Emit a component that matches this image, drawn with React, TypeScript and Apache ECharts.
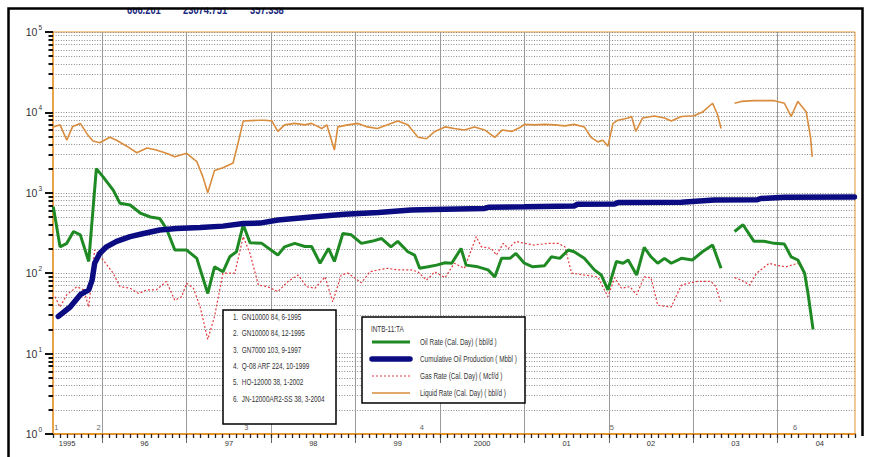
import React, { useEffect, useRef } from "react";
import * as echarts from "echarts";

const FONT = "'Liberation Sans', Arial, 'Noto Sans', sans-serif";

const headerValues = ["666.201", "23074.751", "357.338"];
const wellName = "INTB-11:TA";

const seriesNames = [
  "Oil Rate (Cal. Day) ( bbl/d )",
  "Cumulative Oil Production ( Mbbl )",
  "Gas Rate (Cal. Day) ( Mcf/d )",
  "Liquid Rate (Cal. Day) ( bbl/d )",
];

const eventNames = [
  "GN10000 84, 6-1995",
  "GN10000 84, 12-1995",
  "GN7000 103, 9-1997",
  "Q-08 ARF 224, 10-1999",
  "HO-12000 38, 1-2002",
  "JN-12000AR2-SS 38, 3-2004",
];
const eventDates = [1995.42, 1995.92, 1997.67, 1999.75, 2002.0, 2004.17];

const yearLabels = ["1995", "96", "97", "98", "99", "2000", "01", "02", "03", "04"];
const yearLabelMonths = ["1995-08", "1996-07", "1997-07", "1998-07", "1999-07", "2000-07", "2001-07", "2002-07", "2003-07", "2004-07"];

const firstYear = 1995;
const firstMonth = 6;
const lastYear = 2004;
const lastMonth = 12;

const decadeTicks = [1, 10, 100, 1000, 10000, 100000];
const minorDigits = [2, 3, 4, 5, 6, 7, 8, 9];

const liquidRate: [number, number | null][] = [
  [1995.42, 6600], [1995.5, 7000], [1995.58, 4500], [1995.65, 6700], [1995.74, 7300], [1995.82, 5400],
  [1995.89, 4400], [1995.97, 4200], [1996.09, 4900], [1996.17, 4500], [1996.29, 3800], [1996.41, 3150],
  [1996.53, 3600], [1996.64, 3400], [1996.76, 3100], [1996.86, 2800], [1997.0, 3100], [1997.12, 2450],
  [1997.19, 1600], [1997.25, 1000], [1997.33, 1900], [1997.43, 2050], [1997.55, 2350], [1997.61, 4200],
  [1997.67, 7800], [1997.87, 8000], [1997.93, 8000], [1998.01, 7800], [1998.08, 5800], [1998.16, 7000],
  [1998.28, 7300], [1998.4, 7000], [1998.48, 7300], [1998.6, 6300], [1998.66, 7000], [1998.75, 3400],
  [1998.79, 6600], [1998.91, 7000], [1999.03, 7300], [1999.14, 6600], [1999.26, 6300], [1999.38, 7000],
  [1999.5, 7800], [1999.62, 7000], [1999.74, 4900], [1999.84, 4700], [1999.94, 5800], [2000.06, 6600],
  [2000.17, 6300], [2000.29, 6050], [2000.41, 6600], [2000.53, 6050], [2000.65, 4900], [2000.74, 6050],
  [2000.85, 5800], [2000.96, 6600], [2001.0, 7100], [2001.12, 7000], [2001.24, 7100], [2001.36, 7000],
  [2001.48, 6800], [2001.59, 7100], [2001.71, 6600], [2001.79, 4900], [2001.87, 4300], [2001.93, 4500],
  [2001.99, 3800], [2002.05, 7300], [2002.11, 8000], [2002.23, 8500], [2002.27, 8900], [2002.32, 5800],
  [2002.4, 8500], [2002.54, 9000], [2002.66, 8500], [2002.74, 7800], [2002.86, 8900], [2003.01, 9100],
  [2003.11, 10100], [2003.23, 13000], [2003.29, 9300], [2003.33, 6300], [2003.41, null],
  [2003.49, 13000], [2003.57, 13700], [2003.72, 14000], [2003.96, 14000], [2004.08, 13000],
  [2004.16, 8900], [2004.24, 13700], [2004.34, 10100], [2004.39, 4900], [2004.41, 2800],
];

const oilRate: [number, number | null][] = [
  [1995.42, 670], [1995.5, 213], [1995.58, 235], [1995.66, 330], [1995.74, 300], [1995.84, 140],
  [1995.93, 2000], [1996.01, 1580], [1996.13, 1080], [1996.21, 740], [1996.33, 705], [1996.45, 560],
  [1996.57, 500], [1996.68, 480], [1996.76, 360], [1996.86, 194], [1997.0, 194], [1997.12, 153],
  [1997.25, 56], [1997.33, 120], [1997.43, 104], [1997.51, 160], [1997.59, 185], [1997.67, 400],
  [1997.75, 240], [1997.89, 235], [1998.08, 168], [1998.16, 213], [1998.28, 235], [1998.4, 215],
  [1998.48, 215], [1998.58, 133], [1998.68, 203], [1998.75, 140], [1998.85, 312], [1998.95, 300],
  [1999.07, 235], [1999.19, 249], [1999.31, 270], [1999.42, 213], [1999.5, 249], [1999.62, 185],
  [1999.7, 168], [1999.76, 115], [1999.86, 120], [1999.96, 126], [2000.06, 135], [2000.14, 133],
  [2000.25, 203], [2000.31, 126], [2000.45, 120], [2000.57, 110], [2000.65, 90], [2000.73, 153],
  [2000.83, 153], [2000.9, 176], [2001.0, 133], [2001.1, 120], [2001.24, 124], [2001.32, 160],
  [2001.42, 153], [2001.52, 194], [2001.59, 185], [2001.71, 153], [2001.83, 110], [2001.91, 95],
  [2001.99, 62], [2002.09, 140], [2002.17, 133], [2002.23, 146], [2002.33, 95], [2002.42, 210],
  [2002.5, 160], [2002.58, 133], [2002.66, 153], [2002.74, 133], [2002.86, 153], [2002.99, 146],
  [2003.11, 185], [2003.23, 224], [2003.33, 115], [2003.41, null], [2003.49, 330], [2003.59, 400],
  [2003.72, 249], [2003.84, 249], [2003.96, 235], [2004.08, 230], [2004.16, 160], [2004.24, 146],
  [2004.32, 100], [2004.36, 56], [2004.42, 20],
];

const cumulativeOil: [number, number][] = [
  [1995.48, 29], [1995.62, 38], [1995.74, 54], [1995.84, 62], [1995.88, 82], [1995.91, 133],
  [1995.97, 176], [1996.05, 213], [1996.17, 249], [1996.33, 285], [1996.49, 312], [1996.68, 345],
  [1996.88, 360], [1997.16, 370], [1997.43, 385], [1997.67, 415], [1997.87, 420], [1998.08, 459],
  [1998.48, 500], [1998.87, 540], [1999.27, 570], [1999.66, 611], [2000.06, 625], [2000.53, 640],
  [2000.57, 660], [2001.0, 670], [2001.59, 685], [2001.63, 720], [2002.07, 725], [2002.11, 755],
  [2002.86, 765], [2003.25, 813], [2003.76, 820], [2003.8, 850], [2004.08, 880], [2004.91, 885],
];

const gasRate: [number, number | null][] = [
  [1995.44, 51], [1995.5, 38], [1995.58, 54], [1995.7, 68], [1995.78, 62], [1995.84, 38],
  [1995.91, 194], [1996.01, 146], [1996.13, 100], [1996.21, 68], [1996.33, 65], [1996.43, 56],
  [1996.53, 62], [1996.64, 62], [1996.76, 79], [1996.86, 46], [1996.94, 51], [1997.0, 75],
  [1997.08, 65], [1997.16, 38], [1997.25, 15], [1997.33, 29], [1997.43, 100], [1997.57, 100],
  [1997.67, 285], [1997.75, 176], [1997.85, 71], [1997.96, 68], [1998.08, 59], [1998.2, 79],
  [1998.32, 95], [1998.42, 68], [1998.52, 65], [1998.64, 90], [1998.73, 44], [1998.83, 95],
  [1998.91, 100], [1999.07, 76], [1999.17, 104], [1999.27, 110], [1999.38, 115], [1999.5, 110],
  [1999.66, 110], [1999.74, 104], [1999.84, 82], [1999.94, 104], [2000.06, 88], [2000.17, 133],
  [2000.29, 115], [2000.43, 285], [2000.49, 213], [2000.61, 203], [2000.67, 168], [2000.75, 235],
  [2000.81, 203], [2000.9, 249], [2001.0, 235], [2001.12, 224], [2001.28, 235], [2001.4, 235],
  [2001.48, 213], [2001.56, 100], [2001.71, 95], [2001.87, 90], [2001.99, 51], [2002.07, 88],
  [2002.15, 65], [2002.25, 68], [2002.33, 54], [2002.42, 90], [2002.5, 88], [2002.58, 40],
  [2002.74, 38], [2002.86, 71], [2002.94, 75], [2003.05, 79], [2003.21, 79], [2003.27, 68],
  [2003.33, 42], [2003.41, null], [2003.49, 88], [2003.57, 82], [2003.67, 71], [2003.75, 100],
  [2003.9, 133], [2003.98, 126], [2004.1, 120], [2004.24, 133], [2004.3, 110],
];

const COLORS = {
  oil: "#1f8a24",
  cum: "#0b0b82",
  gas: "#e2383c",
  liquid: "#d98c3c",
  frame: "#e6952e",
};

const seriesStyles = [
  { color: COLORS.oil, width: 3, dash: null as any },
  { color: COLORS.cum, width: 5.5, dash: null as any },
  { color: COLORS.gas, width: 1.2, dash: [2, 2] },
  { color: COLORS.liquid, width: 1.6, dash: null as any },
];

export default function App() {
  const ref = useRef<HTMLDivElement>(null);

  useEffect(() => {
    if (!ref.current) return;
    const chart = echarts.init(ref.current, undefined, { renderer: "svg" });

    const monthCategories: string[] = [];
    for (let y = firstYear; y <= lastYear; y++) {
      for (let m = 1; m <= 12; m++) {
        if (y === firstYear && m < firstMonth) continue;
        if (y === lastYear && m > lastMonth) continue;
        monthCategories.push(`${y}-${String(m).padStart(2, "0")}`);
      }
    }
    const labelMap: Record<string, string> = {};
    yearLabelMonths.forEach((k, i) => (labelMap[k] = yearLabels[i]));
    const isJan = (_i: number, v: string) => typeof v === "string" && v.endsWith("-01");

    const minorTicks: number[] = [];
    decadeTicks.slice(0, -1).forEach((d) => minorDigits.forEach((k) => minorTicks.push(d * k)));

    const xMin = firstYear + (firstMonth - 1) / 12;
    const xMax = lastYear + (lastMonth - 1) / 12;

    const gridLine = { color: "#8c8c8c", width: 1, type: [1, 1.6] as any };
    const SQ = 0.75;

    const graphics: any[] = [];
    const headerX = [127, 183, 250];
    headerValues.forEach((t, i) => {
      graphics.push({
        type: "text",
        x: headerX[i],
        y: 16,
        scaleX: 0.78,
        z: 100,
        style: { text: t, fill: "#1c2a80", font: `bold 12px ${FONT}`, verticalAlign: "bottom" },
      });
    });
    graphics.push({ type: "rect", shape: { x: 0, y: 0, width: 878, height: 7.5 }, style: { fill: "#fff" }, z: 101 });
    graphics.push({
      type: "polyline",
      shape: { points: [[8.5, 457], [8.5, 8.5], [862.5, 8.5], [862.5, 436]] },
      style: { stroke: "#000", lineWidth: 2.5, fill: "none" },
      z: 102,
    });

    // event box
    graphics.push({
      type: "rect",
      shape: { x: 223, y: 310, width: 113, height: 114 },
      style: { fill: "#fff", stroke: "#000", lineWidth: 1.5 },
      z: 100,
    });
    eventNames.forEach((n, i) => {
      graphics.push({
        type: "text",
        x: 233,
        y: 317 + i * 16.4,
        scaleX: SQ,
        z: 101,
        style: { text: `${i + 1}.  ${n}`, fill: "#333", font: `8.5px ${FONT}`, verticalAlign: "middle" },
      });
    });

    // series legend box
    graphics.push({
      type: "rect",
      shape: { x: 362, y: 317, width: 163, height: 86 },
      style: { fill: "#fff", stroke: "#000", lineWidth: 1.5 },
      z: 100,
    });
    graphics.push({
      type: "text",
      x: 371,
      y: 329,
      scaleX: SQ,
      z: 101,
      style: { text: wellName, fill: "#333", font: `8.5px ${FONT}`, verticalAlign: "middle" },
    });
    seriesNames.forEach((n, i) => {
      const yy = 342 + i * 17;
      const st = seriesStyles[i];
      graphics.push({
        type: "line",
        shape: { x1: 372, y1: yy, x2: 410, y2: yy },
        style: { stroke: st.color, lineWidth: st.width, lineCap: i === 1 ? "round" : "butt", lineDash: st.dash },
        z: 101,
      });
      graphics.push({
        type: "text",
        x: 420,
        y: yy,
        scaleX: SQ,
        z: 101,
        style: { text: n, fill: "#333", font: `8.5px ${FONT}`, verticalAlign: "middle" },
      });
    });

    const option: any = {
      animation: false,
      backgroundColor: "#fff",
      textStyle: { fontFamily: FONT },
      grid: {
        left: 53,
        right: 23,
        top: 32,
        bottom: 23,
        show: true,
        borderColor: COLORS.frame,
        borderWidth: 1,
        containLabel: false,
        outerBoundsMode: "none",
      },
      graphic: graphics,
      xAxis: [
        {
          type: "category",
          data: monthCategories,
          boundaryGap: false,
          position: "bottom",
          axisLine: { show: true, lineStyle: { color: COLORS.frame, width: 2 } },
          axisTick: { show: true, interval: isJan, length: 9, lineStyle: { color: "#666", width: 1 } },
          axisLabel: {
            show: true,
            interval: (_i: number, v: string) => labelMap[v] !== undefined,
            formatter: (v: string) => labelMap[v] ?? "",
            fontSize: 7.5,
            color: "#333",
            margin: 5,
            fontFamily: FONT,
          },
          splitLine: { show: true, interval: isJan, lineStyle: { color: "#9a9a9a", width: 1 } },
        },
        {
          type: "category",
          data: monthCategories,
          boundaryGap: false,
          position: "bottom",
          axisLine: { show: false },
          axisTick: { show: true, interval: 0, length: 4, lineStyle: { color: "#222", width: 1.3 } },
          axisLabel: { show: false },
          splitLine: { show: false },
        },
        { type: "value", min: xMin, max: xMax, show: false },
      ],
      yAxis: [
        {
          type: "log",
          logBase: 10,
          min: 1,
          max: 100000,
          position: "left",
          axisLine: { show: true, lineStyle: { color: COLORS.frame, width: 1.5 } },
          axisTick: { show: true, length: 8, lineStyle: { color: "#111", width: 2 } },
          axisLabel: {
            margin: 11,
            formatter: (v: number) => `{b|10}{e|${Math.round(Math.log10(v))}}`,
            rich: {
              b: { fontSize: 10.5, color: "#333", fontFamily: FONT },
              e: { fontSize: 6.5, color: "#333", fontFamily: FONT, padding: [0, 0, 9, 1] },
            },
          },
          splitLine: { show: true, lineStyle: gridLine },
        },
        {
          type: "log",
          logBase: 10,
          min: 1,
          max: 100000,
          position: "left",
          axisLine: { show: false },
          axisTick: { show: true, length: 4.5, customValues: minorTicks, lineStyle: { color: "#111", width: 2 } },
          axisLabel: { show: false },
          splitLine: { show: true, customValues: minorTicks, lineStyle: gridLine },
        },
      ],
      series: [
        {
          name: seriesNames[0],
          type: "line",
          xAxisIndex: 2,
          yAxisIndex: 0,
          data: oilRate,
          symbol: "none",
          connectNulls: false,
          lineStyle: { color: COLORS.oil, width: 3 },
          itemStyle: { color: COLORS.oil },
          z: 4,
        },
        {
          name: seriesNames[1],
          type: "line",
          xAxisIndex: 2,
          yAxisIndex: 0,
          data: cumulativeOil,
          symbol: "none",
          lineStyle: { color: COLORS.cum, width: 5.5, cap: "round" },
          itemStyle: { color: COLORS.cum },
          z: 5,
        },
        {
          name: seriesNames[2],
          type: "line",
          xAxisIndex: 2,
          yAxisIndex: 0,
          data: gasRate,
          symbol: "none",
          connectNulls: false,
          lineStyle: { color: COLORS.gas, width: 1.2, type: [2, 2] },
          itemStyle: { color: COLORS.gas },
          z: 3,
        },
        {
          name: seriesNames[3],
          type: "line",
          xAxisIndex: 2,
          yAxisIndex: 0,
          data: liquidRate,
          symbol: "none",
          connectNulls: false,
          lineStyle: { color: COLORS.liquid, width: 1.6 },
          itemStyle: { color: COLORS.liquid },
          z: 3,
        },
        {
          name: "events",
          type: "scatter",
          xAxisIndex: 2,
          yAxisIndex: 0,
          symbolSize: 0,
          silent: true,
          data: eventDates.map((d, i) => [d, 1.2, String(i + 1)]),
          label: {
            show: true,
            position: "right",
            distance: 1,
            formatter: (p: any) => p.value[2],
            fontSize: 7.5,
            color: "#333",
            fontFamily: FONT,
          },
          z: 6,
        },
      ],
    };

    chart.setOption(option);
    return () => chart.dispose();
  }, []);

  return (
    <div
      ref={ref}
      style={{ position: "fixed", left: 0, top: 0, width: 878, height: 457, background: "#fff" }}
    />
  );
}
